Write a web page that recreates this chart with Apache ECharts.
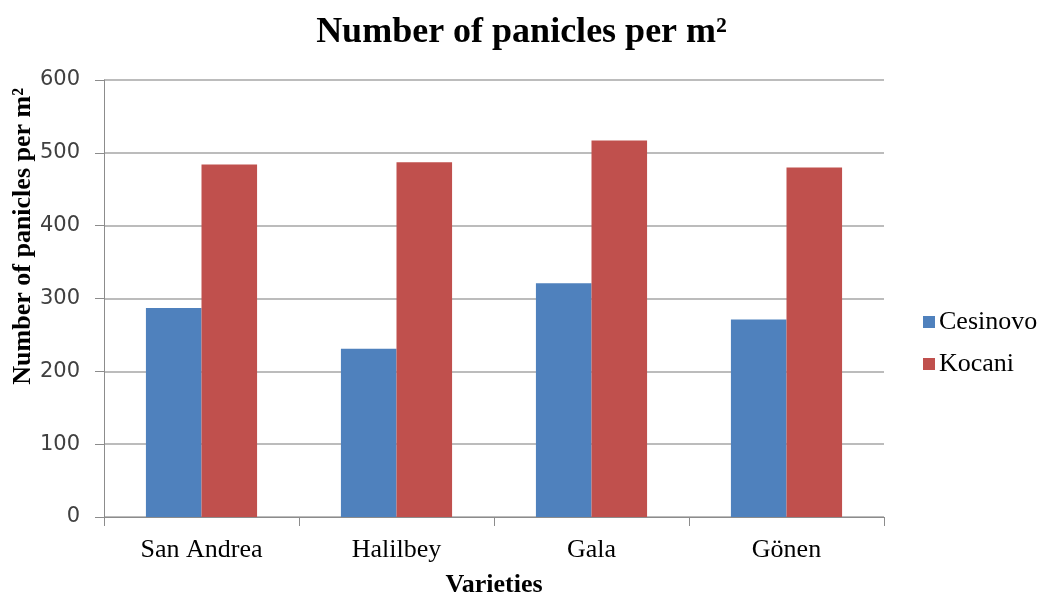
<!DOCTYPE html>
<html>
<head>
<meta charset="utf-8">
<style>
  html, body { margin: 0; padding: 0; background: #ffffff; }
  #chart { width: 1043px; height: 595px; }
</style>
<script src="https://cdn.jsdelivr.net/npm/echarts@6/dist/echarts.min.js"></script>
</head>
<body>
<div id="chart"></div>
<script>
// Panicle counts per square metre for four varieties at two locations
const varieties = ['San Andrea', 'Halilbey', 'Gala', 'Gönen'];
const cesinovo = [287, 231, 321, 271];
const kocani = [484, 487, 517, 480];
const yTicks = { min: 0, max: 600, interval: 100 };

const serif = '"Liberation Serif", "Times New Roman", serif';
const sans = '"DejaVu Sans", Arial, sans-serif';

const chart = echarts.init(document.getElementById('chart'), null, { renderer: 'canvas' });

chart.setOption({
  backgroundColor: '#ffffff',
  animation: false,
  title: {
    text: 'Number of panicles per m²',
    left: 'center',
    top: 10,
    textStyle: { fontFamily: serif, fontWeight: 'bold', fontSize: 36, color: '#000000' }
  },
  legend: {
    orient: 'vertical',
    left: 918,
    top: 304,
    itemWidth: 12,
    itemHeight: 12,
    itemGap: 16,
    icon: 'rect',
    textStyle: { fontFamily: serif, fontSize: 26, color: '#000000', padding: [0, 0, 0, -1] },
    data: ['Cesinovo', 'Kocani']
  },
  grid: { left: 104, right: 159, top: 80, bottom: 78, containLabel: false, outerBoundsMode: 'none' },
  xAxis: {
    type: 'category',
    data: varieties,
    axisLine: { lineStyle: { color: '#8c8c8c', width: 1 } },
    axisTick: { show: true, length: 9, lineStyle: { color: '#8c8c8c' } },
    axisLabel: { margin: 20, fontFamily: serif, fontSize: 26, color: '#000000' },
    name: 'Varieties',
    nameLocation: 'middle',
    nameGap: 55,
    nameTextStyle: { fontFamily: serif, fontWeight: 'bold', fontSize: 26, color: '#000000' }
  },
  yAxis: {
    type: 'value',
    min: yTicks.min,
    max: yTicks.max,
    interval: yTicks.interval,
    axisLine: { show: true, lineStyle: { color: '#8c8c8c', width: 1 } },
    axisTick: { show: true, length: 9, lineStyle: { color: '#8c8c8c' } },
    axisLabel: { margin: 24, fontFamily: sans, fontSize: 21, color: '#404040' },
    splitLine: { lineStyle: { color: '#a6a6a6', width: 1.5 } }
  },
  graphic: [{
    type: 'text',
    left: 10,
    top: 88,
    rotation: Math.PI / 2,
    style: {
      text: 'Number of panicles per m²',
      fontFamily: serif,
      fontWeight: 'bold',
      fontSize: 26,
      fill: '#000000'
    }
  }],
  series: [
    {
      name: 'Cesinovo',
      type: 'bar',
      data: cesinovo,
      barGap: '0%',
      barCategoryGap: '43%',
      itemStyle: { color: '#4f81bd' }
    },
    {
      name: 'Kocani',
      type: 'bar',
      data: kocani,
      barGap: '0%',
      barCategoryGap: '43%',
      itemStyle: { color: '#c0504d' }
    }
  ]
});
</script>
</body>
</html>
